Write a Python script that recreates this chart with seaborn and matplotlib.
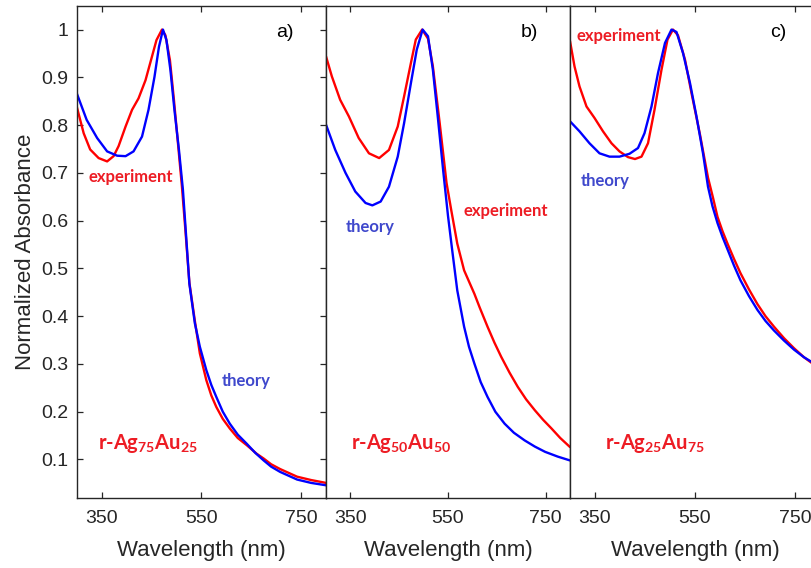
import matplotlib
matplotlib.use("Agg")
import matplotlib.pyplot as plt
import seaborn as sns

# ---------------- data ----------------
# Panel a) r-Ag75Au25
a_theory_wl = [300, 320, 341, 361, 381, 398, 414, 431, 444, 456, 465, 473, 480, 488, 496, 505, 513,
               518, 526, 537, 547, 560, 570, 580, 593, 607, 623, 641, 658, 675, 690, 708, 742, 770, 800]
a_theory_ab = [0.867, 0.811, 0.773, 0.745, 0.736, 0.735, 0.745, 0.776, 0.832, 0.901, 0.964, 1.000, 0.978,
               0.915, 0.832, 0.749, 0.665, 0.590, 0.468, 0.385, 0.336, 0.287, 0.256, 0.231, 0.200, 0.175,
               0.152, 0.133, 0.114, 0.098, 0.085, 0.074, 0.058, 0.051, 0.046]
a_exp_wl = [300, 314, 327, 344, 361, 374, 384, 398, 411, 424, 438, 449, 460, 471, 478, 487, 495, 503, 511,
            518, 526, 537, 547, 560, 570, 580, 593, 607, 623, 641, 661, 675, 690, 708, 742, 770, 800]
a_exp_ab = [0.839, 0.783, 0.749, 0.731, 0.724, 0.735, 0.756, 0.797, 0.832, 0.856, 0.894, 0.936, 0.978, 1.000,
            0.988, 0.936, 0.853, 0.763, 0.672, 0.580, 0.470, 0.390, 0.322, 0.266, 0.234, 0.210, 0.185,
            0.165, 0.145, 0.130, 0.112, 0.102, 0.090, 0.080, 0.064, 0.057, 0.051]

# Panel b) r-Ag50Au50
b_theory_wl = [300, 319, 340, 360, 381, 395, 412, 429, 447, 460, 474, 486, 498, 509, 519, 529, 540, 550,
               559, 569, 583, 593, 604, 617, 631, 647, 666, 685, 707, 728, 749, 775, 800]
b_theory_ab = [0.801, 0.748, 0.700, 0.661, 0.637, 0.632, 0.640, 0.671, 0.734, 0.804, 0.888, 0.958, 1.000,
               0.986, 0.916, 0.818, 0.706, 0.610, 0.535, 0.454, 0.378, 0.336, 0.301, 0.262, 0.231, 0.200,
               0.175, 0.156, 0.140, 0.127, 0.116, 0.106, 0.098]
b_exp_wl = [300, 312, 329, 347, 367, 388, 409, 429, 447, 460, 474, 484, 497, 509, 519, 533, 547, 557, 569,
            583, 604, 615, 631, 645, 659, 676, 693, 710, 728, 745, 762, 780, 800]
b_exp_ab = [0.944, 0.902, 0.853, 0.818, 0.773, 0.741, 0.731, 0.748, 0.797, 0.860, 0.930, 0.979, 1.000,
            0.981, 0.923, 0.804, 0.679, 0.620, 0.552, 0.496, 0.447, 0.418, 0.378, 0.345, 0.315, 0.282,
            0.252, 0.226, 0.203, 0.183, 0.165, 0.145, 0.126]

# Panel c) r-Ag25Au75
c_theory_wl = [300, 319, 339, 359, 379, 399, 419, 436, 449, 463, 476, 490, 503, 513, 526, 540, 553, 566,
               576, 585, 595, 605, 615, 628, 641, 658, 675, 691, 708, 728, 748, 768, 790]
c_theory_ab = [0.808, 0.787, 0.762, 0.741, 0.734, 0.734, 0.740, 0.752, 0.783, 0.839, 0.909, 0.972, 1.000,
               0.995, 0.951, 0.888, 0.818, 0.741, 0.671, 0.630, 0.595, 0.566, 0.540, 0.506, 0.475, 0.442,
               0.413, 0.390, 0.370, 0.349, 0.330, 0.314, 0.300]
c_exp_wl = [300, 309, 319, 333, 349, 366, 383, 399, 416, 430, 443, 456, 469, 483, 495, 506, 516, 530, 543,
            560, 576, 586, 595, 605, 615, 628, 641, 658, 675, 691, 708, 728, 748, 768, 790]
c_exp_ab = [0.976, 0.923, 0.881, 0.839, 0.815, 0.787, 0.762, 0.745, 0.733, 0.729, 0.734, 0.762, 0.832,
            0.916, 0.979, 1.000, 0.988, 0.937, 0.867, 0.780, 0.690, 0.648, 0.608, 0.578, 0.552, 0.520,
            0.490, 0.456, 0.425, 0.400, 0.378, 0.354, 0.333, 0.314, 0.297]

panel_tags = ["a)", "b)", "c)"]
sample_names = [r"r-Ag$_{\mathbf{75}}$Au$_{\mathbf{25}}$",
                r"r-Ag$_{\mathbf{50}}$Au$_{\mathbf{50}}$",
                r"r-Ag$_{\mathbf{25}}$Au$_{\mathbf{75}}$"]
x_ticks = [350, 550, 750]
y_ticks = [0.1, 0.2, 0.3, 0.4, 0.5, 0.6, 0.7, 0.8, 0.9, 1.0]
y_tick_labels = ["0.1", "0.2", "0.3", "0.4", "0.5", "0.6", "0.7", "0.8", "0.9", "1"]

# ---------------- style ----------------
sns.set_theme(style="ticks")
plt.rcParams["font.family"] = ["Liberation Sans", "DejaVu Sans"]
plt.rcParams["mathtext.fontset"] = "custom"
plt.rcParams["mathtext.bf"] = "Lato:bold"
plt.rcParams["mathtext.rm"] = "Lato"
plt.rcParams["mathtext.it"] = "Lato:italic"

RED_LINE = "#ff0000"
BLUE_LINE = "#0000ff"
RED_TXT = "#ed1c24"
BLUE_TXT = "#3f48cc"
AX_COL = "#262626"

fig = plt.figure(figsize=(8.12, 5.68), dpi=100)
bottom = 1 - 497.7 / 568
height = (497.7 - 5.7) / 568
axa = fig.add_axes([76.7 / 812, bottom, (326 - 76.7) / 812, height])
axb = fig.add_axes([326 / 812, bottom, (570 - 326) / 812, height])
axc = fig.add_axes([570 / 812, bottom, 250 / 812, height])
axes = [axa, axb, axc]

data = [
    (a_theory_wl, a_theory_ab, a_exp_wl, a_exp_ab),
    (b_theory_wl, b_theory_ab, b_exp_wl, b_exp_ab),
    (c_theory_wl, c_theory_ab, c_exp_wl, c_exp_ab),
]

for i, (ax, (tw, ta, ew, ea)) in enumerate(zip(axes, data)):
    sns.lineplot(x=ew, y=ea, ax=ax, color=RED_LINE, lw=1.7, sort=False, estimator=None)
    sns.lineplot(x=tw, y=ta, ax=ax, color=BLUE_LINE, lw=1.7, sort=False, estimator=None)
    ax.set_xlim(300, 800)
    ax.set_ylim(0.02, 1.05)
    ax.set_xticks(x_ticks)
    ax.set_xticklabels([str(t) for t in x_ticks])
    ax.set_xlabel("Wavelength (nm)", fontsize=16, color=AX_COL, labelpad=9)
    for s in ax.spines.values():
        s.set_color(AX_COL)
        s.set_linewidth(1.0)
    ax.tick_params(axis="x", direction="in", length=4, width=0.9, top=True, bottom=True,
                   labelsize=14, pad=9, colors=AX_COL)
    if i == 0:
        ax.set_yticks(y_ticks)
        ax.set_yticklabels(y_tick_labels)
        ax.tick_params(axis="y", direction="in", length=4, width=0.9, left=True, right=True,
                       labelsize=14, pad=6, colors=AX_COL)
        ax.set_ylabel("Normalized Absorbance", fontsize=16, color=AX_COL, labelpad=4)
    else:
        ax.set_yticks([])
        ax.set_ylabel("")
    ax.text(717, 0.994, panel_tags[i], fontsize=14, color="black", ha="center", va="center")
    ax.text([343, 352, 371][i], 0.133, sample_names[i], fontsize=14.5, color=RED_TXT,
            fontfamily="Lato", fontweight="bold", ha="left", va="center")

lab = dict(fontfamily="Lato", fontweight="bold", fontsize=12, ha="center", va="center")
axa.text(409, 0.692, "experiment", color=RED_TXT, **lab)
axa.text(640, 0.265, "theory", color=BLUE_TXT, **lab)
axb.text(390, 0.586, "theory", color=BLUE_TXT, **lab)
axb.text(669, 0.620, "experiment", color=RED_TXT, **lab)
axc.text(397, 0.986, "experiment", color=RED_TXT, **lab)
axc.text(370, 0.682, "theory", color=BLUE_TXT, **lab)

fig.savefig("out.png", dpi=100)
